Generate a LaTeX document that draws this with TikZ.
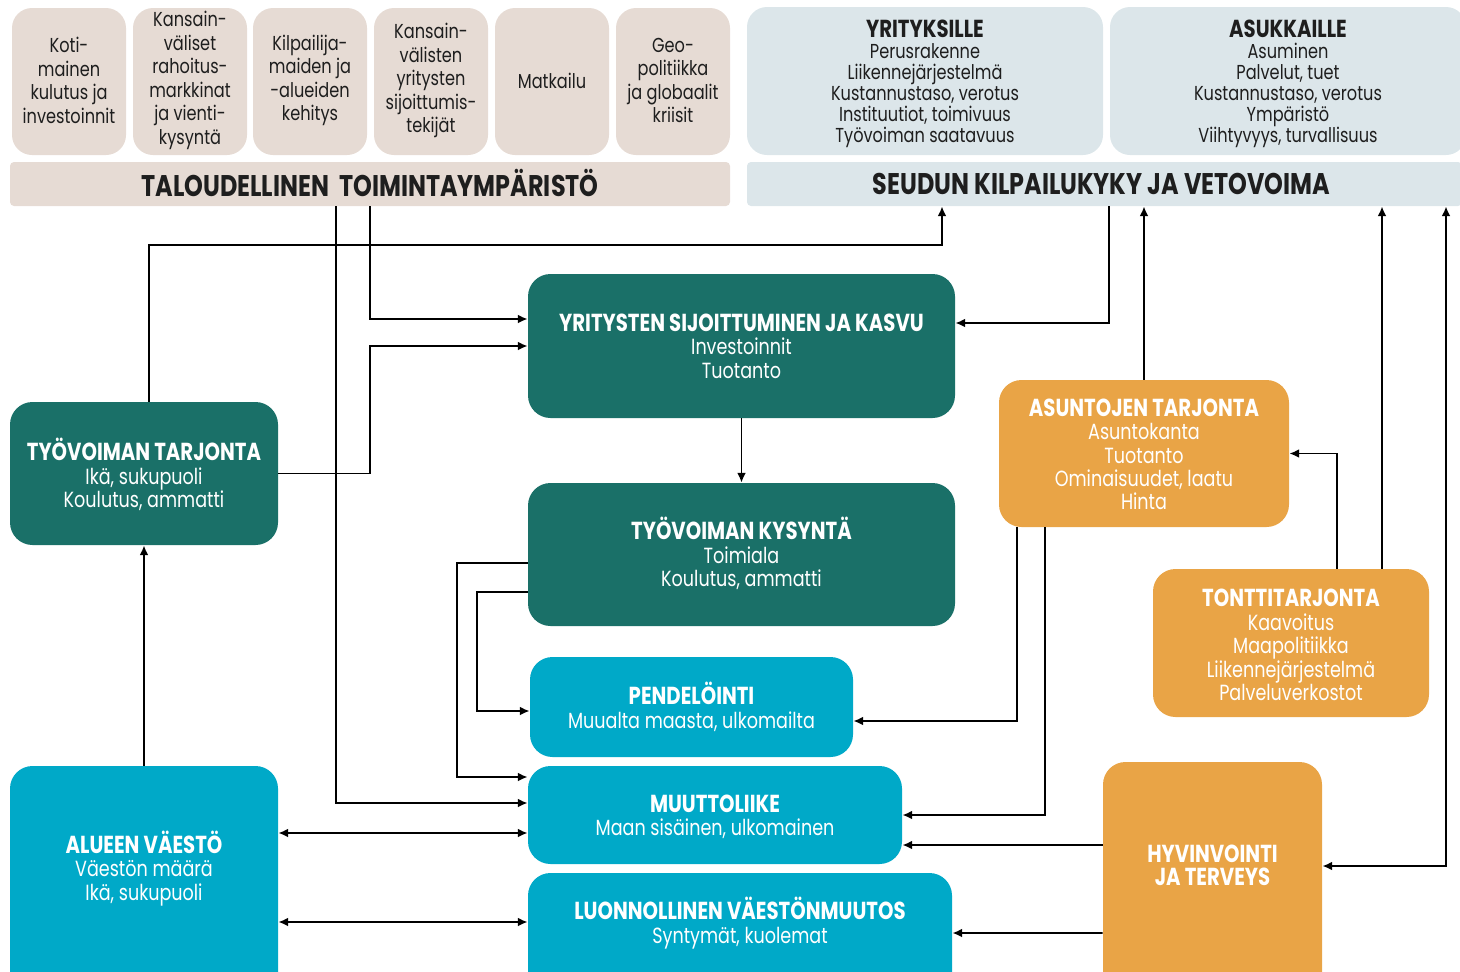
\documentclass[tikz,border=0pt]{standalone}
\usepackage{fontspec}
\setmainfont{Poppins}[FakeStretch=0.8]
\usetikzlibrary{arrows.meta}
\usetikzlibrary{calc}
\usetikzlibrary{fit}

\definecolor{beige}{HTML}{E6DBD4}
\definecolor{haze}{HTML}{DCE6EA}
\definecolor{petrol}{HTML}{1A7068}
\definecolor{turkoosi}{HTML}{00A9C8}
\definecolor{oranssi}{HTML}{E9A446}
\definecolor{ink}{HTML}{1E1E1E}

\newcommand{\boxtitle}[1]{{\bfseries\fontsize{14}{13.6}\selectfont #1}}

\begin{document}
\begin{tikzpicture}[x=0.02cm, y=-0.02cm,
    box/.style={rounded corners=0.45cm, inner sep=0pt},
    txt/.style={inner sep=0pt, align=center},
    topbox/.style={box, rounded corners=0.4cm, fill=beige},
    toptext/.style={txt, text=ink, font=\fontsize{11.5}{13.4}\selectfont},
    infobox/.style={box, rounded corners=0.4cm, fill=haze},
    infotext/.style={txt, text=ink, font=\fontsize{11.5}{11.9}\selectfont},
    band/.style={box, rounded corners=0.08cm},
    bandtext/.style={txt, text=ink, font=\bfseries\fontsize{17}{18}\selectfont},
    greenbox/.style={box, fill=petrol},
    cyanbox/.style={box, fill=turkoosi},
    orangebox/.style={box, fill=oranssi},
    whitetext/.style={txt, text=white, font=\fontsize{12.5}{13.3}\selectfont},
    arr/.style={-{Latex[length=5.5pt,width=5pt]}, line width=1.1pt},
    darr/.style={{Latex[length=5.5pt,width=5pt]}-{Latex[length=5.5pt,width=5pt]}, line width=1.1pt}]

    \useasboundingbox (0,0) rectangle (1460,971);
    \clip (0,0) rectangle (1460,971);

    % Economic environment
    \node[topbox, fit={(12,8) (126,155)}] (koti) {};
    \node[topbox, fit={(133,8) (247,155)}] (rahoitus) {};
    \node[topbox, fit={(253,8) (367,155)}] (kilpailu) {};
    \node[topbox, fit={(374,8) (488,155)}] (sijoitus) {};
    \node[topbox, fit={(495,8) (609,155)}] (matkailu) {};
    \node[topbox, fit={(616,8) (730,155)}] (geo) {};
    \node[band, fill=beige, fit={(10,162) (730,206)}] (talous) {};
    \node[toptext] (koti-t) at ($(koti)+(0,-1)$) {Koti-\\mainen\\kulutus ja\\investoinnit};
    \node[toptext] (rahoitus-t) at ($(rahoitus)+(0,-1)$) {Kansain-\\väliset\\rahoitus-\\markkinat\\ja vienti-\\kysyntä};
    \node[toptext] (kilpailu-t) at ($(kilpailu)+(0,-1)$) {Kilpailija-\\maiden ja\\-alueiden\\kehitys};
    \node[toptext] (sijoitus-t) at ($(sijoitus)+(0,-1)$) {Kansain-\\välisten\\yritysten\\sijoittumis-\\tekijät};
    \node[toptext] (matkailu-t) at ($(matkailu)+(0,-1)$) {Matkailu};
    \node[toptext] (geo-t) at ($(geo)+(0,-1)$) {Geo-\\politiikka\\ja globaalit\\kriisit};
    \node[bandtext] (talous-t) at ($(talous)+(0,-1)$) {TALOUDELLINEN\ \ TOIMINTAYMPÄRISTÖ};

    % Competitiveness
    \node[infobox, fit={(747,7) (1103,155)}] (yrit) {};
    \node[infobox, fit={(1110,7) (1466,155)}] (asuk) {};
    \node[band, fill=haze, fit={(747,162) (1462,206)}] (seutu) {};
    \node[infotext] (yrit-t) at ($(yrit)+(0,3)$) {\boxtitle{YRITYKSILLE}\\Perusrakenne\\Liikennejärjestelmä\\Kustannustaso, verotus\\Instituutiot, toimivuus\\Työvoiman saatavuus};
    \node[infotext] (asuk-t) at ($(asuk)+(0,3)$) {\boxtitle{ASUKKAILLE}\\Asuminen\\Palvelut, tuet\\Kustannustaso, verotus\\Ympäristö\\Viihtyvyys, turvallisuus};
    \node[bandtext] (seutu-t) at ($(seutu)+(-3,0)$) {SEUDUN KILPAILUKYKY JA VETOVOIMA};

    % Labour and firms
    \node[greenbox, fit={(528,274) (955,418)}] (yritykset) {};
    \node[greenbox, fit={(528,483) (955,626)}] (kysynta) {};
    \node[greenbox, fit={(10,402) (278,545)}] (tarjonta) {};
    \node[whitetext] (yritykset-t) at (yritykset) {\boxtitle{YRITYSTEN SIJOITTUMINEN JA KASVU}\\Investoinnit\\Tuotanto};
    \node[whitetext] (kysynta-t) at ($(kysynta)+(0,-1)$) {\boxtitle{TYÖVOIMAN KYSYNTÄ}\\Toimiala\\Koulutus, ammatti};
    \node[whitetext] (tarjonta-t) at ($(tarjonta)+(0,1)$) {\boxtitle{TYÖVOIMAN TARJONTA}\\Ikä, sukupuoli\\Koulutus, ammatti};

    % Population
    \node[cyanbox, fit={(530,657) (853,757)}] (pendel) {};
    \node[cyanbox, fit={(528,766) (902,864)}] (muutto) {};
    \node[cyanbox, fit={(528,873) (952,1000)}] (luonn) {};
    \node[cyanbox, fit={(10,766) (278,1000)}] (vaesto) {};
    \node[whitetext] (pendel-t) at (pendel) {\boxtitle{PENDELÖINTI}\\Muualta maasta, ulkomailta};
    \node[whitetext] (muutto-t) at ($(muutto)+(0,2)$) {\boxtitle{MUUTTOLIIKE}\\Maan sisäinen, ulkomainen};
    \node[whitetext] (luonn-t) at ($(luonn)+(0,-13.5)$) {\boxtitle{LUONNOLLINEN VÄESTÖNMUUTOS}\\Syntymät, kuolemat};
    \node[whitetext] (vaesto-t) at ($(vaesto)+(0,-14.5)$) {\boxtitle{ALUEEN VÄESTÖ}\\Väestön määrä\\Ikä, sukupuoli};

    % Housing and wellbeing
    \node[orangebox, fit={(999,380) (1289,527)}] (asunnot) {};
    \node[orangebox, fit={(1153,569) (1429,717)}] (tontit) {};
    \node[orangebox, fit={(1103,762) (1322,1000)}] (hyvinvointi) {};
    \node[whitetext] (asunnot-t) at ($(asunnot)+(0,1)$) {\boxtitle{ASUNTOJEN TARJONTA}\\Asuntokanta\\Tuotanto\\Ominaisuudet, laatu\\Hinta};
    \node[whitetext] (tontit-t) at ($(tontit)+(0,2)$) {\boxtitle{TONTTITARJONTA}\\Kaavoitus\\Maapolitiikka\\Liikennejärjestelmä\\Palveluverkostot};
    \node[whitetext] (hyvinvointi-t) at ($(hyvinvointi)+(0,-15.5)$) {\boxtitle{HYVINVOINTI}\\\boxtitle{JA TERVEYS}};

    \coordinate (tonttiylos) at ($(tontit.north)+(91,0)$);

    % Arrows from the economic environment
    \draw[arr] (talous.south) |- ($(yritykset.west)+(0,-27)$);
    \draw[arr] ($(talous.south)+(-34,0)$) |- ($(muutto.west)+(0,-12)$);

    % Labour supply
    \draw[arr] (tarjonta.east) -- ++(92,0) |- (yritykset.west);
    \draw[arr] ($(tarjonta.north)+(5,0)$) -- ++(0,-157) -| ($(seutu.south)+(-162.5,0)$);
    \draw[arr] (vaesto.north) -- (tarjonta.south);

    % Firms and labour demand
    \draw[arr] ($(seutu.south)+(4.5,0)$) |- ($(yritykset.east)+(0,-23)$);
    \draw[arr] (yritykset.south) -- (kysynta.north);
    \draw[arr] ($(kysynta.west)+(0,8.5)$) -- ++(-71,0) |- ($(muutto.west)+(0,-38)$);
    \draw[arr] ($(kysynta.west)+(0,37.5)$) -- ++(-51,0) |- ($(pendel.west)+(0,4)$);

    % Housing
    \draw[arr] (asunnot.north) -- (asunnot.north |- seutu.south);
    \draw[arr] ($(asunnot.south)+(-127,0)$) |- ($(pendel.east)+(0,14)$);
    \draw[arr] ($(asunnot.south)+(-99,0)$) |- (muutto.east);
    \draw[arr] ($(tontit.north)+(46,0)$) |- (asunnot.east);
    \draw[arr] (tonttiylos) -- (tonttiylos |- seutu.south);

    % Wellbeing
    \draw[darr] ($(hyvinvointi.east)+(0,-15)$) -| ($(seutu.south)+(341.5,0)$);
    \draw[arr] ($(hyvinvointi.west)+(0,-36)$) -- ($(muutto.east)+(0,30)$);
    \draw[arr] ($(hyvinvointi.west)+(0,52)$) -- ($(luonn.east)+(0,-3.5)$);

    % Population flows
    \draw[darr] ($(vaesto.east)+(0,-50)$) -- ($(muutto.west)+(0,18)$);
    \draw[darr] ($(vaesto.east)+(0,39)$) -- ($(luonn.west)+(0,-14.5)$);

\end{tikzpicture}
\end{document}
